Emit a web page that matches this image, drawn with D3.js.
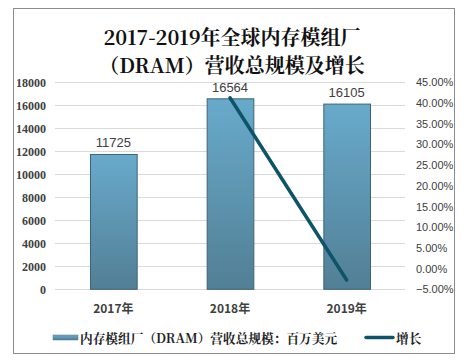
<!DOCTYPE html>
<html><head><meta charset="utf-8">
<script src="https://cdn.jsdelivr.net/npm/d3@7/dist/d3.min.js"></script>
<style>body{margin:0;background:#fff}svg{display:block}</style>
</head><body>
<script>
const categories = ["2017年", "2018年", "2019年"];
const revenue = [11725, 16564, 16105];
const growth = [null, 0.4127, -0.0277];
const leftTicks = [0, 2000, 4000, 6000, 8000, 10000, 12000, 14000, 16000, 18000];
const rightTicks = [-0.05, 0, 0.05, 0.10, 0.15, 0.20, 0.25, 0.30, 0.35, 0.40, 0.45];
const titleLines = ["2017-2019年全球内存模组厂", "（DRAM）营收总规模及增长"];
const legendLabels = ["内存模组厂（DRAM）营收总规模：百万美元", "增长"];

const W = 465, H = 360;
const svg = d3.select("body").append("svg").attr("width", W).attr("height", H);

const defs = svg.append("defs");
const g1 = defs.append("linearGradient").attr("id", "barGrad").attr("x1", 0).attr("y1", 0).attr("x2", 0).attr("y2", 1);
g1.append("stop").attr("offset", "0%").attr("stop-color", "#68aacb");
g1.append("stop").attr("offset", "100%").attr("stop-color", "#527f95");
const g2 = defs.append("linearGradient").attr("id", "legGrad").attr("x1", 0).attr("y1", 0).attr("x2", 0).attr("y2", 1);
g2.append("stop").attr("offset", "0%").attr("stop-color", "#6aaccb");
g2.append("stop").attr("offset", "100%").attr("stop-color", "#4f7e95");

svg.append("rect").attr("x", 13.5).attr("y", 8.5).attr("width", 441).attr("height", 345)
  .attr("fill", "#fff").attr("stroke", "#8c8c8c").attr("stroke-width", 1);

const title = svg.append("text").attr("text-anchor", "middle")
  .attr("font-family", "'Noto Serif CJK SC','Noto Serif SC','Noto Sans CJK SC',serif")
  .attr("font-weight", "bold").attr("font-size", 20).attr("fill", "#111");
titleLines.forEach((t, i) => title.append("tspan").attr("x", 232).attr("y", 45 + i * 28).text(t));

const x = d3.scaleBand().domain(categories).range([55, 405]).paddingInner(0.6).paddingOuter(0.3);
const y = d3.scaleLinear().domain([0, 18000]).range([289.3, 82.3]);
const y2 = d3.scaleLinear().domain([-0.05, 0.45]).range([289.3, 82.3]);

// gridlines
svg.append("g").selectAll("line").data(leftTicks).join("line")
  .attr("x1", 55).attr("x2", 405)
  .attr("y1", d => Math.round(y(d)) + 0.5).attr("y2", d => Math.round(y(d)) + 0.5)
  .attr("stroke", "#d9d9d9").attr("stroke-width", 1);

// left axis
const la = svg.append("g").attr("transform", "translate(55,0)")
  .call(d3.axisLeft(y).tickValues(leftTicks).tickSize(0).tickPadding(9).tickFormat(d3.format("d")));
la.select(".domain").remove();
la.selectAll("text").attr("font-family", "'Liberation Serif',serif").attr("font-weight", "bold")
  .attr("font-size", 12).attr("fill", "#404040");

// right axis
const ra = svg.append("g").attr("transform", "translate(405,0)")
  .call(d3.axisRight(y2).tickValues(rightTicks).tickSize(0).tickPadding(11).tickFormat(d3.format(".2%")));
ra.select(".domain").remove();
ra.selectAll("text").attr("font-family", "'Liberation Sans',Arial,sans-serif")
  .attr("font-size", 11).attr("fill", "#404040");

// bars
svg.append("g").selectAll("rect").data(revenue).join("rect")
  .attr("x", (d, i) => x(categories[i]) + 0.5)
  .attr("y", d => y(d))
  .attr("width", x.bandwidth())
  .attr("height", d => y(0) - y(d))
  .attr("fill", "url(#barGrad)").attr("stroke", "#3c6478").attr("stroke-width", 1);

// bar labels
svg.append("g").selectAll("text").data(revenue).join("text")
  .attr("x", (d, i) => x(categories[i]) + x.bandwidth() / 2)
  .attr("y", d => y(d) - 7)
  .attr("text-anchor", "middle")
  .attr("font-family", "'Liberation Sans',Arial,sans-serif").attr("font-size", 13)
  .attr("fill", "#404040").text(d => d);

// x labels
svg.append("g").selectAll("text").data(categories).join("text")
  .attr("x", d => x(d) + x.bandwidth() / 2).attr("y", 313)
  .attr("text-anchor", "middle")
  .attr("font-family", "'Noto Sans CJK SC',sans-serif").attr("font-weight", "bold")
  .attr("font-size", 12).attr("fill", "#404040").text(d => d);

// growth line
const pts = growth.map((g, i) => ({ c: categories[i], g })).filter(d => d.g !== null);
svg.append("path").datum(pts)
  .attr("d", d3.line().x(d => x(d.c) + x.bandwidth() / 2).y(d => y2(d.g)))
  .attr("fill", "none").attr("stroke", "#0d5468").attr("stroke-width", 3.5).attr("stroke-linecap", "round");

// legend
svg.append("rect").attr("x", 53).attr("y", 335).attr("width", 25).attr("height", 5)
  .attr("fill", "url(#legGrad)").attr("stroke", "#4a7a90").attr("stroke-width", 0.5);
svg.append("text").attr("x", 80).attr("y", 342.5)
  .attr("font-family", "'Noto Serif CJK SC','Noto Sans CJK SC',sans-serif").attr("font-weight", "bold")
  .attr("font-size", 12.7).attr("fill", "#222").text(legendLabels[0]);
svg.append("line").attr("x1", 366).attr("x2", 393).attr("y1", 337.5).attr("y2", 337.5)
  .attr("stroke", "#0d5468").attr("stroke-width", 3.5).attr("stroke-linecap", "round");
svg.append("text").attr("x", 396).attr("y", 342.5)
  .attr("font-family", "'Noto Serif CJK SC','Noto Sans CJK SC',sans-serif").attr("font-weight", "bold")
  .attr("font-size", 12.7).attr("fill", "#222").text(legendLabels[1]);
</script>
</body></html>
